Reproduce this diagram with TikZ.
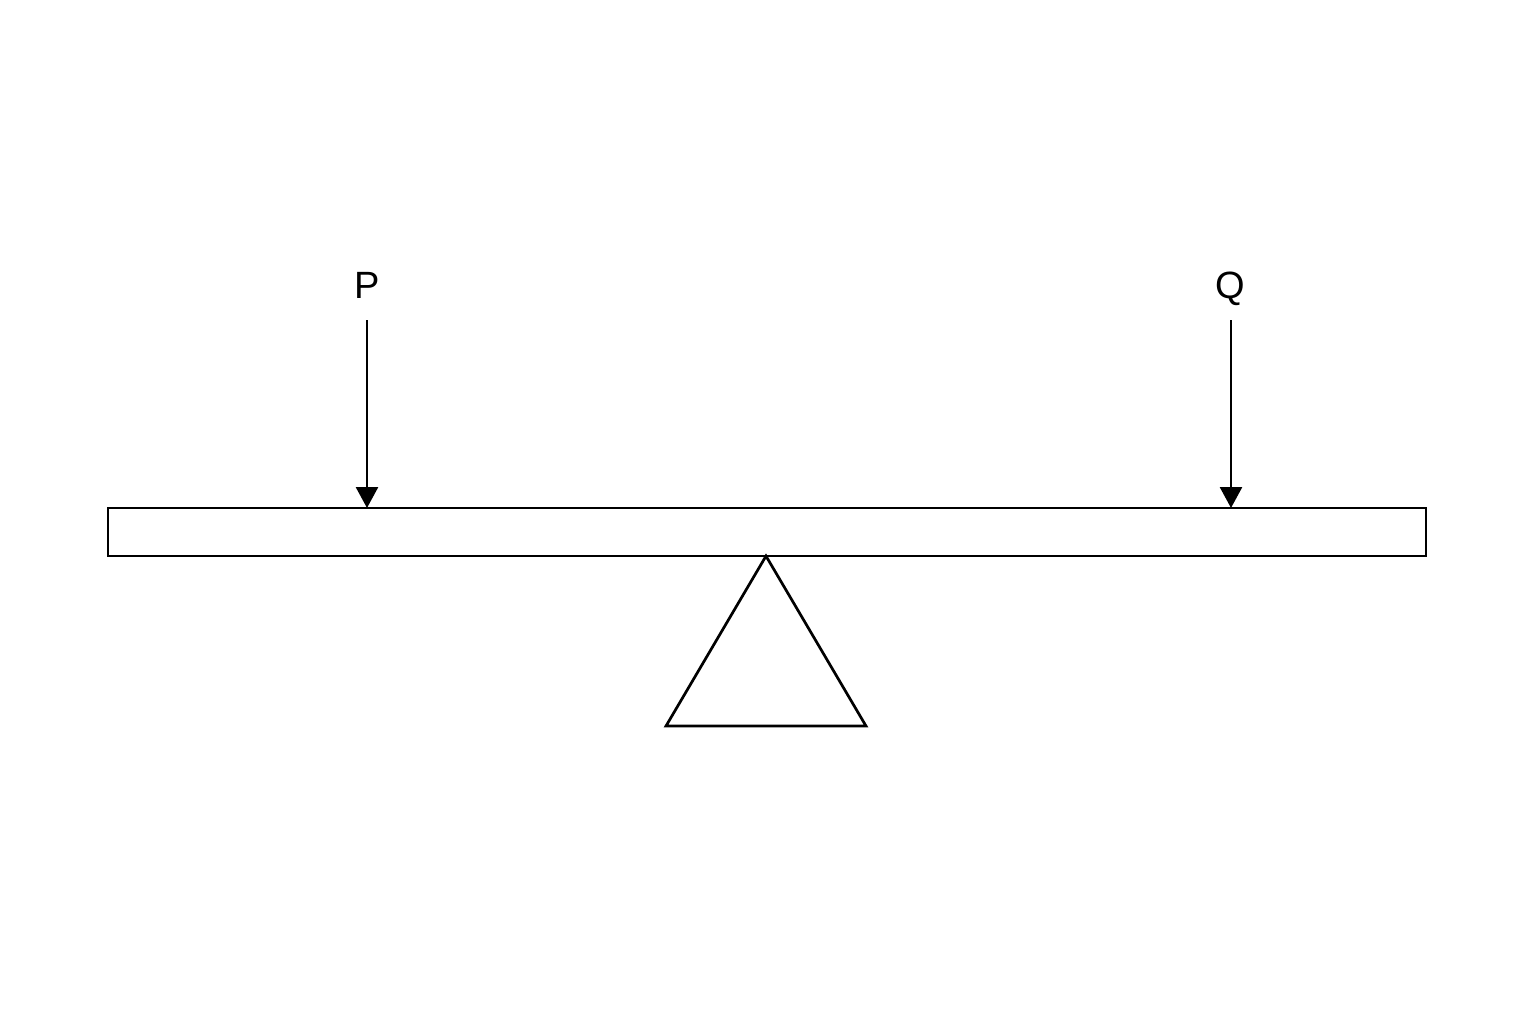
\documentclass[tikz,border=0pt]{standalone}
\usepackage{fontspec}
\setmainfont{Liberation Sans}
\usetikzlibrary{arrows.meta}
\begin{document}
\begin{tikzpicture}[x=0.5pt,y=-0.5pt,
  line/.style={line width=1.35pt,black},
  force/.style={line width=1.35pt,-{Triangle[length=10.5pt,width=11pt]}},
  lbl/.style={font=\fontsize{19}{22}\selectfont,inner sep=0pt,anchor=base}]
\useasboundingbox[fill=white] (0,0) rectangle (1536,1024);
\node[draw,line width=1.35pt,minimum width=659pt,minimum height=24pt,inner sep=0pt] (beam) at (767,532) {};
\coordinate (apex) at (766,556);
\coordinate (bl) at (666,726);
\coordinate (br) at (866,726);
\draw[line,line join=miter] (apex) -- (bl) -- (br) -- cycle;
\node[lbl] (P) at (367,298) {P};
\node[lbl] (Q) at (1230,298) {Q};
\coordinate (ps) at (367,320);
\coordinate (pe) at (367,508);
\coordinate (qs) at (1231,320);
\coordinate (qe) at (1231,508);
\draw[force] (ps) -- (pe);
\draw[force] (qs) -- (qe);
\end{tikzpicture}
\end{document}
